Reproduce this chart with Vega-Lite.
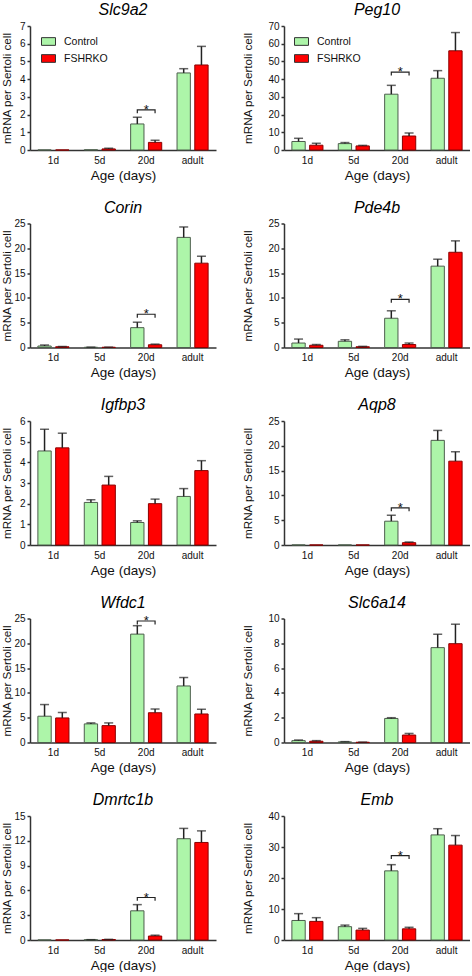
{
"$schema": "https://vega.github.io/schema/vega-lite/v6.json",
"padding": {"left": 1, "top": 2, "right": 0, "bottom": 0},
"background": "white",
"bounds": "flush",
"columns": 2,
"spacing": {"row": 73.5, "column": 68},
"resolve": {"scale": {"x": "independent", "y": "independent", "xOffset": "independent", "color": "independent"}, "legend": {"color": "independent"}},
"datasets": {
"bars": [
{"gene":"Slc9a2","age":"1d","group":"Control","mean":0,"upper":0},
{"gene":"Slc9a2","age":"1d","group":"FSHRKO","mean":0,"upper":0},
{"gene":"Slc9a2","age":"5d","group":"Control","mean":0.01,"upper":0.01},
{"gene":"Slc9a2","age":"5d","group":"FSHRKO","mean":0.06,"upper":0.1},
{"gene":"Slc9a2","age":"20d","group":"Control","mean":1.47,"upper":1.85},
{"gene":"Slc9a2","age":"20d","group":"FSHRKO","mean":0.43,"upper":0.55},
{"gene":"Slc9a2","age":"adult","group":"Control","mean":4.35,"upper":4.59},
{"gene":"Slc9a2","age":"adult","group":"FSHRKO","mean":4.8,"upper":5.85},
{"gene":"Peg10","age":"1d","group":"Control","mean":4.8,"upper":6.6},
{"gene":"Peg10","age":"1d","group":"FSHRKO","mean":2.7,"upper":3.8},
{"gene":"Peg10","age":"5d","group":"Control","mean":3.6,"upper":4.2},
{"gene":"Peg10","age":"5d","group":"FSHRKO","mean":2.3,"upper":2.6},
{"gene":"Peg10","age":"20d","group":"Control","mean":31.5,"upper":36.5},
{"gene":"Peg10","age":"20d","group":"FSHRKO","mean":7.9,"upper":9.6},
{"gene":"Peg10","age":"adult","group":"Control","mean":40.5,"upper":44.8},
{"gene":"Peg10","age":"adult","group":"FSHRKO","mean":56.0,"upper":66.3},
{"gene":"Corin","age":"1d","group":"Control","mean":0.3,"upper":0.5},
{"gene":"Corin","age":"1d","group":"FSHRKO","mean":0.15,"upper":0.2},
{"gene":"Corin","age":"5d","group":"Control","mean":0.05,"upper":0.07},
{"gene":"Corin","age":"5d","group":"FSHRKO","mean":0.05,"upper":0.07},
{"gene":"Corin","age":"20d","group":"Control","mean":4.0,"upper":5.1},
{"gene":"Corin","age":"20d","group":"FSHRKO","mean":0.55,"upper":0.68},
{"gene":"Corin","age":"adult","group":"Control","mean":22.2,"upper":24.3},
{"gene":"Corin","age":"adult","group":"FSHRKO","mean":17.0,"upper":18.4},
{"gene":"Pde4b","age":"1d","group":"Control","mean":0.9,"upper":1.7},
{"gene":"Pde4b","age":"1d","group":"FSHRKO","mean":0.45,"upper":0.6},
{"gene":"Pde4b","age":"5d","group":"Control","mean":1.25,"upper":1.55},
{"gene":"Pde4b","age":"5d","group":"FSHRKO","mean":0.15,"upper":0.23},
{"gene":"Pde4b","age":"20d","group":"Control","mean":5.9,"upper":7.4},
{"gene":"Pde4b","age":"20d","group":"FSHRKO","mean":0.6,"upper":0.9},
{"gene":"Pde4b","age":"adult","group":"Control","mean":16.4,"upper":17.8},
{"gene":"Pde4b","age":"adult","group":"FSHRKO","mean":19.2,"upper":21.5},
{"gene":"Igfbp3","age":"1d","group":"Control","mean":4.55,"upper":5.6},
{"gene":"Igfbp3","age":"1d","group":"FSHRKO","mean":4.7,"upper":5.41},
{"gene":"Igfbp3","age":"5d","group":"Control","mean":2.06,"upper":2.19},
{"gene":"Igfbp3","age":"5d","group":"FSHRKO","mean":2.9,"upper":3.32},
{"gene":"Igfbp3","age":"20d","group":"Control","mean":1.09,"upper":1.17},
{"gene":"Igfbp3","age":"20d","group":"FSHRKO","mean":2.0,"upper":2.22},
{"gene":"Igfbp3","age":"adult","group":"Control","mean":2.35,"upper":2.73},
{"gene":"Igfbp3","age":"adult","group":"FSHRKO","mean":3.6,"upper":4.08},
{"gene":"Aqp8","age":"1d","group":"Control","mean":0,"upper":0},
{"gene":"Aqp8","age":"1d","group":"FSHRKO","mean":0,"upper":0},
{"gene":"Aqp8","age":"5d","group":"Control","mean":0,"upper":0},
{"gene":"Aqp8","age":"5d","group":"FSHRKO","mean":0,"upper":0},
{"gene":"Aqp8","age":"20d","group":"Control","mean":4.8,"upper":6.0},
{"gene":"Aqp8","age":"20d","group":"FSHRKO","mean":0.47,"upper":0.6},
{"gene":"Aqp8","age":"adult","group":"Control","mean":21.1,"upper":23.1},
{"gene":"Aqp8","age":"adult","group":"FSHRKO","mean":16.9,"upper":18.8},
{"gene":"Wfdc1","age":"1d","group":"Control","mean":5.3,"upper":7.65},
{"gene":"Wfdc1","age":"1d","group":"FSHRKO","mean":4.95,"upper":6.05},
{"gene":"Wfdc1","age":"5d","group":"Control","mean":3.75,"upper":3.95},
{"gene":"Wfdc1","age":"5d","group":"FSHRKO","mean":3.4,"upper":3.95},
{"gene":"Wfdc1","age":"20d","group":"Control","mean":21.85,"upper":23.55},
{"gene":"Wfdc1","age":"20d","group":"FSHRKO","mean":6.0,"upper":6.75},
{"gene":"Wfdc1","age":"adult","group":"Control","mean":11.4,"upper":13.1},
{"gene":"Wfdc1","age":"adult","group":"FSHRKO","mean":5.75,"upper":6.7},
{"gene":"Slc6a14","age":"1d","group":"Control","mean":0.15,"upper":0.2},
{"gene":"Slc6a14","age":"1d","group":"FSHRKO","mean":0.1,"upper":0.15},
{"gene":"Slc6a14","age":"5d","group":"Control","mean":0.05,"upper":0.07},
{"gene":"Slc6a14","age":"5d","group":"FSHRKO","mean":0.02,"upper":0.03},
{"gene":"Slc6a14","age":"20d","group":"Control","mean":1.94,"upper":2.0},
{"gene":"Slc6a14","age":"20d","group":"FSHRKO","mean":0.6,"upper":0.73},
{"gene":"Slc6a14","age":"adult","group":"Control","mean":7.65,"upper":8.73},
{"gene":"Slc6a14","age":"adult","group":"FSHRKO","mean":7.97,"upper":9.54},
{"gene":"Dmrtc1b","age":"1d","group":"Control","mean":0,"upper":0},
{"gene":"Dmrtc1b","age":"1d","group":"FSHRKO","mean":0,"upper":0},
{"gene":"Dmrtc1b","age":"5d","group":"Control","mean":0.03,"upper":0.04},
{"gene":"Dmrtc1b","age":"5d","group":"FSHRKO","mean":0.06,"upper":0.08},
{"gene":"Dmrtc1b","age":"20d","group":"Control","mean":3.53,"upper":4.28},
{"gene":"Dmrtc1b","age":"20d","group":"FSHRKO","mean":0.48,"upper":0.58},
{"gene":"Dmrtc1b","age":"adult","group":"Control","mean":12.25,"upper":13.5},
{"gene":"Dmrtc1b","age":"adult","group":"FSHRKO","mean":11.8,"upper":13.2},
{"gene":"Emb","age":"1d","group":"Control","mean":6.3,"upper":8.5},
{"gene":"Emb","age":"1d","group":"FSHRKO","mean":6.0,"upper":7.2},
{"gene":"Emb","age":"5d","group":"Control","mean":4.3,"upper":4.8},
{"gene":"Emb","age":"5d","group":"FSHRKO","mean":3.2,"upper":3.75},
{"gene":"Emb","age":"20d","group":"Control","mean":22.3,"upper":24.3},
{"gene":"Emb","age":"20d","group":"FSHRKO","mean":3.6,"upper":4.1},
{"gene":"Emb","age":"adult","group":"Control","mean":33.9,"upper":35.9},
{"gene":"Emb","age":"adult","group":"FSHRKO","mean":30.6,"upper":33.7}
],
"sig": [
{"gene":"Slc9a2","age":"20d","group":"Control","pt":0,"y":2.08},
{"gene":"Slc9a2","age":"20d","group":"Control","pt":1,"y":2.27},
{"gene":"Slc9a2","age":"20d","group":"FSHRKO","pt":2,"y":2.27},
{"gene":"Slc9a2","age":"20d","group":"FSHRKO","pt":3,"y":2.08},
{"gene":"Peg10","age":"20d","group":"Control","pt":0,"y":42.1},
{"gene":"Peg10","age":"20d","group":"Control","pt":1,"y":44},
{"gene":"Peg10","age":"20d","group":"FSHRKO","pt":2,"y":44},
{"gene":"Peg10","age":"20d","group":"FSHRKO","pt":3,"y":42.1},
{"gene":"Corin","age":"20d","group":"Control","pt":0,"y":6.0},
{"gene":"Corin","age":"20d","group":"Control","pt":1,"y":6.7},
{"gene":"Corin","age":"20d","group":"FSHRKO","pt":2,"y":6.7},
{"gene":"Corin","age":"20d","group":"FSHRKO","pt":3,"y":6.0},
{"gene":"Pde4b","age":"20d","group":"Control","pt":0,"y":9.0},
{"gene":"Pde4b","age":"20d","group":"Control","pt":1,"y":9.7},
{"gene":"Pde4b","age":"20d","group":"FSHRKO","pt":2,"y":9.7},
{"gene":"Pde4b","age":"20d","group":"FSHRKO","pt":3,"y":9.0},
{"gene":"Aqp8","age":"20d","group":"Control","pt":0,"y":6.8},
{"gene":"Aqp8","age":"20d","group":"Control","pt":1,"y":7.5},
{"gene":"Aqp8","age":"20d","group":"FSHRKO","pt":2,"y":7.5},
{"gene":"Aqp8","age":"20d","group":"FSHRKO","pt":3,"y":6.8},
{"gene":"Wfdc1","age":"20d","group":"Control","pt":0,"y":23.8},
{"gene":"Wfdc1","age":"20d","group":"Control","pt":1,"y":24.5},
{"gene":"Wfdc1","age":"20d","group":"FSHRKO","pt":2,"y":24.5},
{"gene":"Wfdc1","age":"20d","group":"FSHRKO","pt":3,"y":23.8},
{"gene":"Dmrtc1b","age":"20d","group":"Control","pt":0,"y":4.75},
{"gene":"Dmrtc1b","age":"20d","group":"Control","pt":1,"y":5.14},
{"gene":"Dmrtc1b","age":"20d","group":"FSHRKO","pt":2,"y":5.14},
{"gene":"Dmrtc1b","age":"20d","group":"FSHRKO","pt":3,"y":4.75},
{"gene":"Emb","age":"20d","group":"Control","pt":0,"y":26.1},
{"gene":"Emb","age":"20d","group":"Control","pt":1,"y":27.2},
{"gene":"Emb","age":"20d","group":"FSHRKO","pt":2,"y":27.2},
{"gene":"Emb","age":"20d","group":"FSHRKO","pt":3,"y":26.1}
]
},
"concat": [
{"width":186,"height":124,"title":{"text":"Slc9a2"},
 "encoding":{"x":{"field":"age","type":"nominal","title":"Age (days)","scale":{"domain":["1d","5d","20d","adult"],"paddingInner":0.33,"paddingOuter":0.17}}},
 "layer":[
  {"data":{"name":"bars"},"transform":[{"filter":"datum.gene === 'Slc9a2'"}],"mark":{"type":"bar","strokeWidth":1},
   "encoding":{"xOffset":{"field":"group","type":"nominal","scale":{"domain":["Control","FSHRKO"],"paddingInner":0.25,"paddingOuter":0}},
    "y":{"field":"mean","type":"quantitative","title":"mRNA per Sertoli cell","scale":{"domain":[0,7],"nice":false},"axis":{"values":[0,1,2,3,4,5,6,7],"titlePadding":1}},
    "color":{"field":"group","type":"nominal","scale":{"domain":["Control","FSHRKO"],"range":["#adf5a9","#ff0000"]},"legend":{"orient":"none","legendX":11,"legendY":8,"title":null}},
    "stroke":{"condition":{"test":"datum.group === 'Control'","value":"#4d5e4d"},"value":"#8b0000"}}},
  {"data":{"name":"bars"},"transform":[{"filter":"datum.gene === 'Slc9a2' && datum.upper > datum.mean"}],"mark":{"type":"rule","color":"#222","strokeWidth":1.5},
   "encoding":{"xOffset":{"field":"group","type":"nominal"},"y":{"field":"mean","type":"quantitative","title":"mRNA per Sertoli cell","axis":{"values":[0,1,2,3,4,5,6,7],"titlePadding":1}},"y2":{"field":"upper"}}},
  {"data":{"name":"bars"},"transform":[{"filter":"datum.gene === 'Slc9a2' && datum.upper > datum.mean"}],"mark":{"type":"tick","color":"#222","thickness":1.5,"size":9,"orient":"horizontal"},
   "encoding":{"xOffset":{"field":"group","type":"nominal"},"y":{"field":"upper","type":"quantitative","title":"mRNA per Sertoli cell","axis":{"values":[0,1,2,3,4,5,6,7],"titlePadding":1}}}},
  {"data":{"name":"sig"},"transform":[{"filter":"datum.gene === 'Slc9a2'"}],"mark":{"type":"line","color":"#222","strokeWidth":1.2},
   "encoding":{"xOffset":{"field":"group","type":"nominal"},"y":{"field":"y","type":"quantitative","title":"mRNA per Sertoli cell","axis":{"values":[0,1,2,3,4,5,6,7],"titlePadding":1}},"order":{"field":"pt","type":"quantitative"}}},
  {"data":{"name":"sig"},"transform":[{"filter":"datum.gene === 'Slc9a2' && datum.pt === 1"}],"mark":{"type":"text","text":"*","fontSize":13,"baseline":"alphabetic","dy":4,"color":"#111"},
   "encoding":{"y":{"field":"y","type":"quantitative","title":"mRNA per Sertoli cell","axis":{"values":[0,1,2,3,4,5,6,7],"titlePadding":1}}}}
 ]},
{"width":186,"height":124,"title":{"text":"Peg10"},
 "encoding":{"x":{"field":"age","type":"nominal","title":"Age (days)","scale":{"domain":["1d","5d","20d","adult"],"paddingInner":0.33,"paddingOuter":0.17}}},
 "layer":[
  {"data":{"name":"bars"},"transform":[{"filter":"datum.gene === 'Peg10'"}],"mark":{"type":"bar","strokeWidth":1},
   "encoding":{"xOffset":{"field":"group","type":"nominal","scale":{"domain":["Control","FSHRKO"],"paddingInner":0.25,"paddingOuter":0}},
    "y":{"field":"mean","type":"quantitative","title":"mRNA per Sertoli cell","scale":{"domain":[0,70],"nice":false},"axis":{"values":[0,10,20,30,40,50,60,70],"titlePadding":14}},
    "color":{"field":"group","type":"nominal","scale":{"domain":["Control","FSHRKO"],"range":["#adf5a9","#ff0000"]},"legend":{"orient":"none","legendX":10,"legendY":8,"title":null}},
    "stroke":{"condition":{"test":"datum.group === 'Control'","value":"#4d5e4d"},"value":"#8b0000"}}},
  {"data":{"name":"bars"},"transform":[{"filter":"datum.gene === 'Peg10' && datum.upper > datum.mean"}],"mark":{"type":"rule","color":"#222","strokeWidth":1.5},
   "encoding":{"xOffset":{"field":"group","type":"nominal"},"y":{"field":"mean","type":"quantitative","title":"mRNA per Sertoli cell","axis":{"values":[0,10,20,30,40,50,60,70],"titlePadding":14}},"y2":{"field":"upper"}}},
  {"data":{"name":"bars"},"transform":[{"filter":"datum.gene === 'Peg10' && datum.upper > datum.mean"}],"mark":{"type":"tick","color":"#222","thickness":1.5,"size":9,"orient":"horizontal"},
   "encoding":{"xOffset":{"field":"group","type":"nominal"},"y":{"field":"upper","type":"quantitative","title":"mRNA per Sertoli cell","axis":{"values":[0,10,20,30,40,50,60,70],"titlePadding":14}}}},
  {"data":{"name":"sig"},"transform":[{"filter":"datum.gene === 'Peg10'"}],"mark":{"type":"line","color":"#222","strokeWidth":1.2},
   "encoding":{"xOffset":{"field":"group","type":"nominal"},"y":{"field":"y","type":"quantitative","title":"mRNA per Sertoli cell","axis":{"values":[0,10,20,30,40,50,60,70],"titlePadding":14}},"order":{"field":"pt","type":"quantitative"}}},
  {"data":{"name":"sig"},"transform":[{"filter":"datum.gene === 'Peg10' && datum.pt === 1"}],"mark":{"type":"text","text":"*","fontSize":13,"baseline":"alphabetic","dy":4,"color":"#111"},
   "encoding":{"y":{"field":"y","type":"quantitative","title":"mRNA per Sertoli cell","axis":{"values":[0,10,20,30,40,50,60,70],"titlePadding":14}}}}
 ]},
{"width":186,"height":124,"title":{"text":"Corin"},
 "encoding":{"x":{"field":"age","type":"nominal","title":"Age (days)","scale":{"domain":["1d","5d","20d","adult"],"paddingInner":0.33,"paddingOuter":0.17}}},
 "layer":[
  {"data":{"name":"bars"},"transform":[{"filter":"datum.gene === 'Corin'"}],"mark":{"type":"bar","strokeWidth":1},
   "encoding":{"xOffset":{"field":"group","type":"nominal","scale":{"domain":["Control","FSHRKO"],"paddingInner":0.25,"paddingOuter":0}},
    "y":{"field":"mean","type":"quantitative","title":"mRNA per Sertoli cell","scale":{"domain":[0,25],"nice":false},"axis":{"values":[0,5,10,15,20,25],"titlePadding":1}},
    "color":{"field":"group","type":"nominal","scale":{"domain":["Control","FSHRKO"],"range":["#adf5a9","#ff0000"]},"legend":null},
    "stroke":{"condition":{"test":"datum.group === 'Control'","value":"#4d5e4d"},"value":"#8b0000"}}},
  {"data":{"name":"bars"},"transform":[{"filter":"datum.gene === 'Corin' && datum.upper > datum.mean"}],"mark":{"type":"rule","color":"#222","strokeWidth":1.5},
   "encoding":{"xOffset":{"field":"group","type":"nominal"},"y":{"field":"mean","type":"quantitative","title":"mRNA per Sertoli cell","axis":{"values":[0,5,10,15,20,25],"titlePadding":1}},"y2":{"field":"upper"}}},
  {"data":{"name":"bars"},"transform":[{"filter":"datum.gene === 'Corin' && datum.upper > datum.mean"}],"mark":{"type":"tick","color":"#222","thickness":1.5,"size":9,"orient":"horizontal"},
   "encoding":{"xOffset":{"field":"group","type":"nominal"},"y":{"field":"upper","type":"quantitative","title":"mRNA per Sertoli cell","axis":{"values":[0,5,10,15,20,25],"titlePadding":1}}}},
  {"data":{"name":"sig"},"transform":[{"filter":"datum.gene === 'Corin'"}],"mark":{"type":"line","color":"#222","strokeWidth":1.2},
   "encoding":{"xOffset":{"field":"group","type":"nominal"},"y":{"field":"y","type":"quantitative","title":"mRNA per Sertoli cell","axis":{"values":[0,5,10,15,20,25],"titlePadding":1}},"order":{"field":"pt","type":"quantitative"}}},
  {"data":{"name":"sig"},"transform":[{"filter":"datum.gene === 'Corin' && datum.pt === 1"}],"mark":{"type":"text","text":"*","fontSize":13,"baseline":"alphabetic","dy":4,"color":"#111"},
   "encoding":{"y":{"field":"y","type":"quantitative","title":"mRNA per Sertoli cell","axis":{"values":[0,5,10,15,20,25],"titlePadding":1}}}}
 ]},
{"width":186,"height":124,"title":{"text":"Pde4b"},
 "encoding":{"x":{"field":"age","type":"nominal","title":"Age (days)","scale":{"domain":["1d","5d","20d","adult"],"paddingInner":0.33,"paddingOuter":0.17}}},
 "layer":[
  {"data":{"name":"bars"},"transform":[{"filter":"datum.gene === 'Pde4b'"}],"mark":{"type":"bar","strokeWidth":1},
   "encoding":{"xOffset":{"field":"group","type":"nominal","scale":{"domain":["Control","FSHRKO"],"paddingInner":0.25,"paddingOuter":0}},
    "y":{"field":"mean","type":"quantitative","title":"mRNA per Sertoli cell","scale":{"domain":[0,25],"nice":false},"axis":{"values":[0,5,10,15,20,25],"titlePadding":14}},
    "color":{"field":"group","type":"nominal","scale":{"domain":["Control","FSHRKO"],"range":["#adf5a9","#ff0000"]},"legend":null},
    "stroke":{"condition":{"test":"datum.group === 'Control'","value":"#4d5e4d"},"value":"#8b0000"}}},
  {"data":{"name":"bars"},"transform":[{"filter":"datum.gene === 'Pde4b' && datum.upper > datum.mean"}],"mark":{"type":"rule","color":"#222","strokeWidth":1.5},
   "encoding":{"xOffset":{"field":"group","type":"nominal"},"y":{"field":"mean","type":"quantitative","title":"mRNA per Sertoli cell","axis":{"values":[0,5,10,15,20,25],"titlePadding":14}},"y2":{"field":"upper"}}},
  {"data":{"name":"bars"},"transform":[{"filter":"datum.gene === 'Pde4b' && datum.upper > datum.mean"}],"mark":{"type":"tick","color":"#222","thickness":1.5,"size":9,"orient":"horizontal"},
   "encoding":{"xOffset":{"field":"group","type":"nominal"},"y":{"field":"upper","type":"quantitative","title":"mRNA per Sertoli cell","axis":{"values":[0,5,10,15,20,25],"titlePadding":14}}}},
  {"data":{"name":"sig"},"transform":[{"filter":"datum.gene === 'Pde4b'"}],"mark":{"type":"line","color":"#222","strokeWidth":1.2},
   "encoding":{"xOffset":{"field":"group","type":"nominal"},"y":{"field":"y","type":"quantitative","title":"mRNA per Sertoli cell","axis":{"values":[0,5,10,15,20,25],"titlePadding":14}},"order":{"field":"pt","type":"quantitative"}}},
  {"data":{"name":"sig"},"transform":[{"filter":"datum.gene === 'Pde4b' && datum.pt === 1"}],"mark":{"type":"text","text":"*","fontSize":13,"baseline":"alphabetic","dy":4,"color":"#111"},
   "encoding":{"y":{"field":"y","type":"quantitative","title":"mRNA per Sertoli cell","axis":{"values":[0,5,10,15,20,25],"titlePadding":14}}}}
 ]},
{"width":186,"height":124,"title":{"text":"Igfbp3"},
 "encoding":{"x":{"field":"age","type":"nominal","title":"Age (days)","scale":{"domain":["1d","5d","20d","adult"],"paddingInner":0.33,"paddingOuter":0.17}}},
 "layer":[
  {"data":{"name":"bars"},"transform":[{"filter":"datum.gene === 'Igfbp3'"}],"mark":{"type":"bar","strokeWidth":1},
   "encoding":{"xOffset":{"field":"group","type":"nominal","scale":{"domain":["Control","FSHRKO"],"paddingInner":0.25,"paddingOuter":0}},
    "y":{"field":"mean","type":"quantitative","title":"mRNA per Sertoli cell","scale":{"domain":[0,6],"nice":false},"axis":{"values":[0,1,2,3,4,5,6],"titlePadding":1}},
    "color":{"field":"group","type":"nominal","scale":{"domain":["Control","FSHRKO"],"range":["#adf5a9","#ff0000"]},"legend":null},
    "stroke":{"condition":{"test":"datum.group === 'Control'","value":"#4d5e4d"},"value":"#8b0000"}}},
  {"data":{"name":"bars"},"transform":[{"filter":"datum.gene === 'Igfbp3' && datum.upper > datum.mean"}],"mark":{"type":"rule","color":"#222","strokeWidth":1.5},
   "encoding":{"xOffset":{"field":"group","type":"nominal"},"y":{"field":"mean","type":"quantitative","title":"mRNA per Sertoli cell","axis":{"values":[0,1,2,3,4,5,6],"titlePadding":1}},"y2":{"field":"upper"}}},
  {"data":{"name":"bars"},"transform":[{"filter":"datum.gene === 'Igfbp3' && datum.upper > datum.mean"}],"mark":{"type":"tick","color":"#222","thickness":1.5,"size":9,"orient":"horizontal"},
   "encoding":{"xOffset":{"field":"group","type":"nominal"},"y":{"field":"upper","type":"quantitative","title":"mRNA per Sertoli cell","axis":{"values":[0,1,2,3,4,5,6],"titlePadding":1}}}}
 ]},
{"width":186,"height":124,"title":{"text":"Aqp8"},
 "encoding":{"x":{"field":"age","type":"nominal","title":"Age (days)","scale":{"domain":["1d","5d","20d","adult"],"paddingInner":0.33,"paddingOuter":0.17}}},
 "layer":[
  {"data":{"name":"bars"},"transform":[{"filter":"datum.gene === 'Aqp8'"}],"mark":{"type":"bar","strokeWidth":1},
   "encoding":{"xOffset":{"field":"group","type":"nominal","scale":{"domain":["Control","FSHRKO"],"paddingInner":0.25,"paddingOuter":0}},
    "y":{"field":"mean","type":"quantitative","title":"mRNA per Sertoli cell","scale":{"domain":[0,25],"nice":false},"axis":{"values":[0,5,10,15,20,25],"titlePadding":14}},
    "color":{"field":"group","type":"nominal","scale":{"domain":["Control","FSHRKO"],"range":["#adf5a9","#ff0000"]},"legend":null},
    "stroke":{"condition":{"test":"datum.group === 'Control'","value":"#4d5e4d"},"value":"#8b0000"}}},
  {"data":{"name":"bars"},"transform":[{"filter":"datum.gene === 'Aqp8' && datum.upper > datum.mean"}],"mark":{"type":"rule","color":"#222","strokeWidth":1.5},
   "encoding":{"xOffset":{"field":"group","type":"nominal"},"y":{"field":"mean","type":"quantitative","title":"mRNA per Sertoli cell","axis":{"values":[0,5,10,15,20,25],"titlePadding":14}},"y2":{"field":"upper"}}},
  {"data":{"name":"bars"},"transform":[{"filter":"datum.gene === 'Aqp8' && datum.upper > datum.mean"}],"mark":{"type":"tick","color":"#222","thickness":1.5,"size":9,"orient":"horizontal"},
   "encoding":{"xOffset":{"field":"group","type":"nominal"},"y":{"field":"upper","type":"quantitative","title":"mRNA per Sertoli cell","axis":{"values":[0,5,10,15,20,25],"titlePadding":14}}}},
  {"data":{"name":"sig"},"transform":[{"filter":"datum.gene === 'Aqp8'"}],"mark":{"type":"line","color":"#222","strokeWidth":1.2},
   "encoding":{"xOffset":{"field":"group","type":"nominal"},"y":{"field":"y","type":"quantitative","title":"mRNA per Sertoli cell","axis":{"values":[0,5,10,15,20,25],"titlePadding":14}},"order":{"field":"pt","type":"quantitative"}}},
  {"data":{"name":"sig"},"transform":[{"filter":"datum.gene === 'Aqp8' && datum.pt === 1"}],"mark":{"type":"text","text":"*","fontSize":13,"baseline":"alphabetic","dy":4,"color":"#111"},
   "encoding":{"y":{"field":"y","type":"quantitative","title":"mRNA per Sertoli cell","axis":{"values":[0,5,10,15,20,25],"titlePadding":14}}}}
 ]},
{"width":186,"height":124,"title":{"text":"Wfdc1"},
 "encoding":{"x":{"field":"age","type":"nominal","title":"Age (days)","scale":{"domain":["1d","5d","20d","adult"],"paddingInner":0.33,"paddingOuter":0.17}}},
 "layer":[
  {"data":{"name":"bars"},"transform":[{"filter":"datum.gene === 'Wfdc1'"}],"mark":{"type":"bar","strokeWidth":1},
   "encoding":{"xOffset":{"field":"group","type":"nominal","scale":{"domain":["Control","FSHRKO"],"paddingInner":0.25,"paddingOuter":0}},
    "y":{"field":"mean","type":"quantitative","title":"mRNA per Sertoli cell","scale":{"domain":[0,25],"nice":false},"axis":{"values":[0,5,10,15,20,25],"titlePadding":1}},
    "color":{"field":"group","type":"nominal","scale":{"domain":["Control","FSHRKO"],"range":["#adf5a9","#ff0000"]},"legend":null},
    "stroke":{"condition":{"test":"datum.group === 'Control'","value":"#4d5e4d"},"value":"#8b0000"}}},
  {"data":{"name":"bars"},"transform":[{"filter":"datum.gene === 'Wfdc1' && datum.upper > datum.mean"}],"mark":{"type":"rule","color":"#222","strokeWidth":1.5},
   "encoding":{"xOffset":{"field":"group","type":"nominal"},"y":{"field":"mean","type":"quantitative","title":"mRNA per Sertoli cell","axis":{"values":[0,5,10,15,20,25],"titlePadding":1}},"y2":{"field":"upper"}}},
  {"data":{"name":"bars"},"transform":[{"filter":"datum.gene === 'Wfdc1' && datum.upper > datum.mean"}],"mark":{"type":"tick","color":"#222","thickness":1.5,"size":9,"orient":"horizontal"},
   "encoding":{"xOffset":{"field":"group","type":"nominal"},"y":{"field":"upper","type":"quantitative","title":"mRNA per Sertoli cell","axis":{"values":[0,5,10,15,20,25],"titlePadding":1}}}},
  {"data":{"name":"sig"},"transform":[{"filter":"datum.gene === 'Wfdc1'"}],"mark":{"type":"line","color":"#222","strokeWidth":1.2},
   "encoding":{"xOffset":{"field":"group","type":"nominal"},"y":{"field":"y","type":"quantitative","title":"mRNA per Sertoli cell","axis":{"values":[0,5,10,15,20,25],"titlePadding":1}},"order":{"field":"pt","type":"quantitative"}}},
  {"data":{"name":"sig"},"transform":[{"filter":"datum.gene === 'Wfdc1' && datum.pt === 1"}],"mark":{"type":"text","text":"*","fontSize":13,"baseline":"alphabetic","dy":4,"color":"#111"},
   "encoding":{"y":{"field":"y","type":"quantitative","title":"mRNA per Sertoli cell","axis":{"values":[0,5,10,15,20,25],"titlePadding":1}}}}
 ]},
{"width":186,"height":124,"title":{"text":"Slc6a14"},
 "encoding":{"x":{"field":"age","type":"nominal","title":"Age (days)","scale":{"domain":["1d","5d","20d","adult"],"paddingInner":0.33,"paddingOuter":0.17}}},
 "layer":[
  {"data":{"name":"bars"},"transform":[{"filter":"datum.gene === 'Slc6a14'"}],"mark":{"type":"bar","strokeWidth":1},
   "encoding":{"xOffset":{"field":"group","type":"nominal","scale":{"domain":["Control","FSHRKO"],"paddingInner":0.25,"paddingOuter":0}},
    "y":{"field":"mean","type":"quantitative","title":"mRNA per Sertoli cell","scale":{"domain":[0,10],"nice":false},"axis":{"values":[0,2,4,6,8,10],"titlePadding":14}},
    "color":{"field":"group","type":"nominal","scale":{"domain":["Control","FSHRKO"],"range":["#adf5a9","#ff0000"]},"legend":null},
    "stroke":{"condition":{"test":"datum.group === 'Control'","value":"#4d5e4d"},"value":"#8b0000"}}},
  {"data":{"name":"bars"},"transform":[{"filter":"datum.gene === 'Slc6a14' && datum.upper > datum.mean"}],"mark":{"type":"rule","color":"#222","strokeWidth":1.5},
   "encoding":{"xOffset":{"field":"group","type":"nominal"},"y":{"field":"mean","type":"quantitative","title":"mRNA per Sertoli cell","axis":{"values":[0,2,4,6,8,10],"titlePadding":14}},"y2":{"field":"upper"}}},
  {"data":{"name":"bars"},"transform":[{"filter":"datum.gene === 'Slc6a14' && datum.upper > datum.mean"}],"mark":{"type":"tick","color":"#222","thickness":1.5,"size":9,"orient":"horizontal"},
   "encoding":{"xOffset":{"field":"group","type":"nominal"},"y":{"field":"upper","type":"quantitative","title":"mRNA per Sertoli cell","axis":{"values":[0,2,4,6,8,10],"titlePadding":14}}}}
 ]},
{"width":186,"height":124,"title":{"text":"Dmrtc1b"},
 "encoding":{"x":{"field":"age","type":"nominal","title":"Age (days)","scale":{"domain":["1d","5d","20d","adult"],"paddingInner":0.33,"paddingOuter":0.17}}},
 "layer":[
  {"data":{"name":"bars"},"transform":[{"filter":"datum.gene === 'Dmrtc1b'"}],"mark":{"type":"bar","strokeWidth":1},
   "encoding":{"xOffset":{"field":"group","type":"nominal","scale":{"domain":["Control","FSHRKO"],"paddingInner":0.25,"paddingOuter":0}},
    "y":{"field":"mean","type":"quantitative","title":"mRNA per Sertoli cell","scale":{"domain":[0,15],"nice":false},"axis":{"values":[0,3,6,9,12,15],"titlePadding":1}},
    "color":{"field":"group","type":"nominal","scale":{"domain":["Control","FSHRKO"],"range":["#adf5a9","#ff0000"]},"legend":null},
    "stroke":{"condition":{"test":"datum.group === 'Control'","value":"#4d5e4d"},"value":"#8b0000"}}},
  {"data":{"name":"bars"},"transform":[{"filter":"datum.gene === 'Dmrtc1b' && datum.upper > datum.mean"}],"mark":{"type":"rule","color":"#222","strokeWidth":1.5},
   "encoding":{"xOffset":{"field":"group","type":"nominal"},"y":{"field":"mean","type":"quantitative","title":"mRNA per Sertoli cell","axis":{"values":[0,3,6,9,12,15],"titlePadding":1}},"y2":{"field":"upper"}}},
  {"data":{"name":"bars"},"transform":[{"filter":"datum.gene === 'Dmrtc1b' && datum.upper > datum.mean"}],"mark":{"type":"tick","color":"#222","thickness":1.5,"size":9,"orient":"horizontal"},
   "encoding":{"xOffset":{"field":"group","type":"nominal"},"y":{"field":"upper","type":"quantitative","title":"mRNA per Sertoli cell","axis":{"values":[0,3,6,9,12,15],"titlePadding":1}}}},
  {"data":{"name":"sig"},"transform":[{"filter":"datum.gene === 'Dmrtc1b'"}],"mark":{"type":"line","color":"#222","strokeWidth":1.2},
   "encoding":{"xOffset":{"field":"group","type":"nominal"},"y":{"field":"y","type":"quantitative","title":"mRNA per Sertoli cell","axis":{"values":[0,3,6,9,12,15],"titlePadding":1}},"order":{"field":"pt","type":"quantitative"}}},
  {"data":{"name":"sig"},"transform":[{"filter":"datum.gene === 'Dmrtc1b' && datum.pt === 1"}],"mark":{"type":"text","text":"*","fontSize":13,"baseline":"alphabetic","dy":4,"color":"#111"},
   "encoding":{"y":{"field":"y","type":"quantitative","title":"mRNA per Sertoli cell","axis":{"values":[0,3,6,9,12,15],"titlePadding":1}}}}
 ]},
{"width":186,"height":124,"title":{"text":"Emb"},
 "encoding":{"x":{"field":"age","type":"nominal","title":"Age (days)","scale":{"domain":["1d","5d","20d","adult"],"paddingInner":0.33,"paddingOuter":0.17}}},
 "layer":[
  {"data":{"name":"bars"},"transform":[{"filter":"datum.gene === 'Emb'"}],"mark":{"type":"bar","strokeWidth":1},
   "encoding":{"xOffset":{"field":"group","type":"nominal","scale":{"domain":["Control","FSHRKO"],"paddingInner":0.25,"paddingOuter":0}},
    "y":{"field":"mean","type":"quantitative","title":"mRNA per Sertoli cell","scale":{"domain":[0,40],"nice":false},"axis":{"values":[0,10,20,30,40],"titlePadding":14}},
    "color":{"field":"group","type":"nominal","scale":{"domain":["Control","FSHRKO"],"range":["#adf5a9","#ff0000"]},"legend":null},
    "stroke":{"condition":{"test":"datum.group === 'Control'","value":"#4d5e4d"},"value":"#8b0000"}}},
  {"data":{"name":"bars"},"transform":[{"filter":"datum.gene === 'Emb' && datum.upper > datum.mean"}],"mark":{"type":"rule","color":"#222","strokeWidth":1.5},
   "encoding":{"xOffset":{"field":"group","type":"nominal"},"y":{"field":"mean","type":"quantitative","title":"mRNA per Sertoli cell","axis":{"values":[0,10,20,30,40],"titlePadding":14}},"y2":{"field":"upper"}}},
  {"data":{"name":"bars"},"transform":[{"filter":"datum.gene === 'Emb' && datum.upper > datum.mean"}],"mark":{"type":"tick","color":"#222","thickness":1.5,"size":9,"orient":"horizontal"},
   "encoding":{"xOffset":{"field":"group","type":"nominal"},"y":{"field":"upper","type":"quantitative","title":"mRNA per Sertoli cell","axis":{"values":[0,10,20,30,40],"titlePadding":14}}}},
  {"data":{"name":"sig"},"transform":[{"filter":"datum.gene === 'Emb'"}],"mark":{"type":"line","color":"#222","strokeWidth":1.2},
   "encoding":{"xOffset":{"field":"group","type":"nominal"},"y":{"field":"y","type":"quantitative","title":"mRNA per Sertoli cell","axis":{"values":[0,10,20,30,40],"titlePadding":14}},"order":{"field":"pt","type":"quantitative"}}},
  {"data":{"name":"sig"},"transform":[{"filter":"datum.gene === 'Emb' && datum.pt === 1"}],"mark":{"type":"text","text":"*","fontSize":13,"baseline":"alphabetic","dy":4,"color":"#111"},
   "encoding":{"y":{"field":"y","type":"quantitative","title":"mRNA per Sertoli cell","axis":{"values":[0,10,20,30,40],"titlePadding":14}}}}
 ]}
],
"config": {
 "font": "Liberation Sans",
 "view": {"stroke": null},
 "title": {"font": "Liberation Sans", "fontSize": 16, "fontStyle": "italic", "fontWeight": "normal", "color": "#000", "frame": "group", "anchor": "middle", "offset": 3},
 "axis": {"grid": false, "domainColor": "#333", "domainWidth": 1.5, "tickColor": "#333", "tickWidth": 1.5, "labelFont": "Liberation Sans", "labelFontSize": 10, "labelColor": "#111", "labelOverlap": false, "titleFont": "Liberation Sans", "titleFontWeight": "normal", "titleColor": "#111"},
 "axisX": {"ticks": false, "labelPadding": 5, "labelAngle": 0, "titlePadding": 3, "titleFontSize": 13.5},
 "axisY": {"tickSize": 3, "labelPadding": 2, "minExtent": 17, "titleFontSize": 11.7},
 "legend": {"symbolType": "M-1,-0.55H1V0.55H-1Z", "symbolSize": 196, "symbolStrokeColor": "#333", "symbolStrokeWidth": 1, "labelFont": "Liberation Sans", "labelFontSize": 10.5, "labelColor": "#111", "labelOffset": 8, "rowPadding": 3, "padding": 0},
 "text": {"font": "Liberation Sans"}
}
}
